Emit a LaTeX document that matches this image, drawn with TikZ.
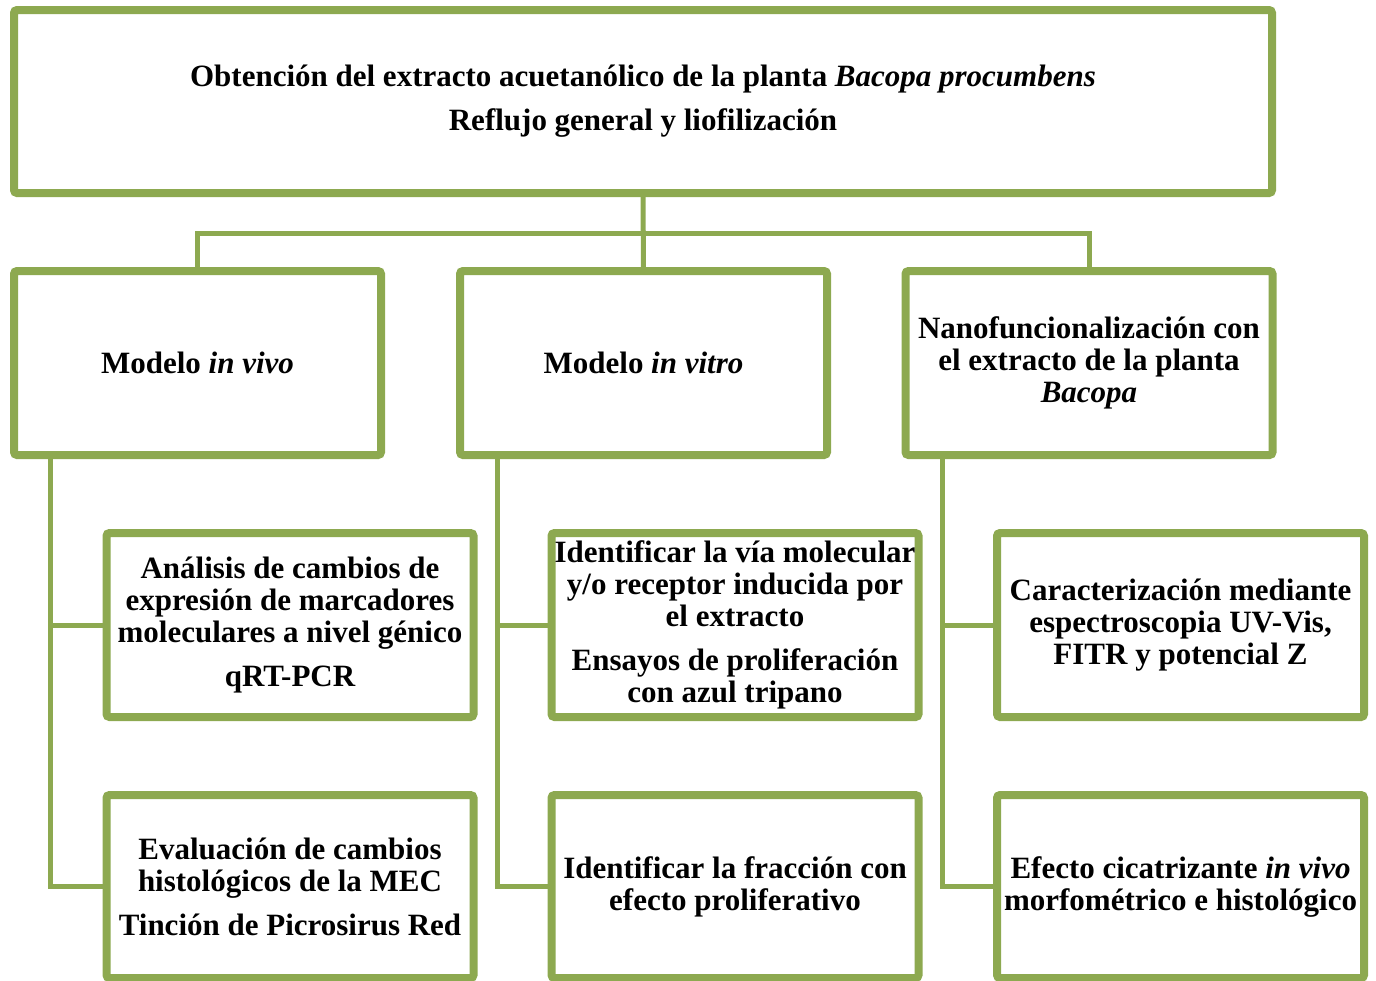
\documentclass[tikz,border=0pt]{standalone}
\usepackage{fontspec}
\setmainfont{Liberation Serif}
\usetikzlibrary{shadows,backgrounds,calc}
\definecolor{ogreen}{RGB}{141,169,80}
\tikzset{
  box/.style={draw=ogreen, line width=8pt, rounded corners=3pt, fill=white,
    outer sep=0pt, inner sep=0pt, minimum width=367pt, minimum height=184pt,
    align=center, font=\fontsize{31}{32}\selectfont\bfseries,
    drop shadow={opacity=0.3, shadow xshift=1pt, shadow yshift=-3pt}},
  conn/.style={draw=ogreen, line width=5pt}
}
\begin{document}
\begin{tikzpicture}[x=1pt,y=-1pt]
\useasboundingbox (0,0) rectangle (1376,980);
\node[box, minimum width=1258pt, minimum height=183pt] (top) at (643,101.5)
  {Obtención del extracto acuetanólico de la planta \textit{Bacopa procumbens}\\[12pt]
   Reflujo general y liofilización};
\node[box] (vivo) at (197.5,363) {Modelo \textit{in vivo}};
\node[box] (vitro) at (643.5,363) {Modelo \textit{in vitro}};
\node[box] (nano) at (1089,363) {Nanofuncionalización con\\ el extracto de la planta\\ \textit{Bacopa}};
\node[box] (a1) at (290,625) {Análisis de cambios de\\ expresión de marcadores\\ moleculares a nivel génico\\[12pt] qRT-PCR};
\node[box, minimum height=183pt] (a2) at (290,886.5) {Evaluación de cambios\\ histológicos de la MEC\\[12pt] Tinción de Picrosirus Red};
\node[box] (b1) at (735,625) {Identificar la vía molecular\\ y/o receptor inducida por\\ el extracto\\[12pt] Ensayos de proliferación\\ con azul tripano};
\node[box, minimum height=183pt] (b2) at (735,886.5) {Identificar la fracción con\\ efecto proliferativo};
\node[box] (c1) at (1180.5,625) {Caracterización mediante\\ espectroscopia UV-Vis,\\ FITR y potencial Z};
\node[box, minimum height=183pt] (c2) at (1180.5,886.5) {Efecto cicatrizante \textit{in vivo}\\ morfométrico e histológico};
\begin{scope}[on background layer]
\draw[conn] (top.south) -- (vitro.north);
\draw[conn] (vivo.north) -- ++(0,-38) -| (nano.north);
\coordinate (s1) at ($(vivo.south west)+(36,0)$);
\coordinate (s2) at ($(vitro.south west)+(37,0)$);
\coordinate (s3) at ($(nano.south west)+(37,0)$);
\draw[conn] (s1) |- (a2.west);
\draw[conn] (s1 |- a1.west) -- (a1.west);
\draw[conn] (s2) |- (b2.west);
\draw[conn] (s2 |- b1.west) -- (b1.west);
\draw[conn] (s3) |- (c2.west);
\draw[conn] (s3 |- c1.west) -- (c1.west);
\end{scope}
\end{tikzpicture}
\end{document}
